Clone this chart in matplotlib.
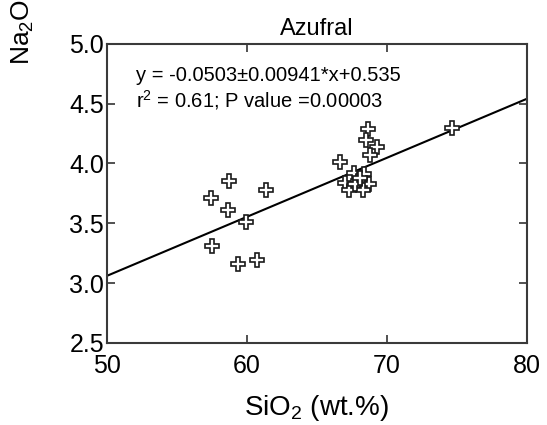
import numpy as np
import matplotlib
matplotlib.use("Agg")
import matplotlib.pyplot as plt

plt.rcParams['font.family'] = ['Liberation Sans', 'DejaVu Sans']
plt.rcParams['mathtext.fontset'] = 'custom'
plt.rcParams['mathtext.rm'] = 'Liberation Sans'
plt.rcParams['mathtext.default'] = 'regular'

# SiO2 and Na2O readings for Azufral samples
sio2 = [68.69, 68.52, 69.33, 68.81, 66.66, 67.66, 68.40, 67.02, 67.97, 68.76,
        67.33, 68.29, 67.74, 68.10, 74.69,
        58.76, 57.45, 58.64, 59.95, 61.38, 57.54, 59.36, 60.71]
na2o = [4.29, 4.20, 4.14, 4.07, 4.01, 3.92, 3.91, 3.84, 3.85, 3.83,
        3.78, 3.78, 3.83, 3.88, 4.30,
        3.85, 3.71, 3.61, 3.51, 3.78, 3.31, 3.16, 3.19]

# regression line end points
fit_x = [50, 80]
fit_y = [3.06, 4.54]

fig = plt.figure(figsize=(5.47, 4.25), dpi=100)
ax = fig.add_axes([0.195, 0.193, 0.768, 0.704])

ax.plot(fit_x, fit_y, color='black', linewidth=1.5, zorder=2)
ax.plot(sio2, na2o, linestyle='none', marker='P', markersize=10.5,
        markerfacecolor='white', markeredgecolor='#1a1a1a',
        markeredgewidth=1.2, zorder=3)

ax.set_xlim(50, 80)
ax.set_ylim(2.5, 5.0)
ax.set_xticks([50, 60, 70, 80])
ax.set_yticks([2.5, 3.0, 3.5, 4.0, 4.5, 5.0])
ax.set_yticklabels(['2.5', '3.0', '3.5', '4.0', '4.5', '5.0'])
ax.tick_params(direction='in', length=6, width=1.2, top=True, right=True,
               labelsize=18, colors='#333333', labelcolor='black')
ax.tick_params(axis='x', pad=8)
ax.tick_params(axis='y', pad=2)
for s in ax.spines.values():
    s.set_linewidth(1.5)
    s.set_color('#3a3a3a')

ax.set_title('Azufral', fontsize=17, pad=6)
ax.set_xlabel('SiO$_2$ (wt.%)', fontsize=20, labelpad=11)

ax.text(0.069, 0.925, 'y = -0.0503\u00b10.00941*x+0.535\nr$^2$ = 0.61; P value =0.00003',
        transform=ax.transAxes, fontsize=14.5, va='top', ha='left', linespacing=1.15)

# y label sits partly outside the figure at top left
fig.text(0.041, 0.847, 'Na$_2$O (wt.%)', rotation=90, fontsize=19,
         ha='center', va='bottom')

fig.savefig('out.png', dpi=100)
